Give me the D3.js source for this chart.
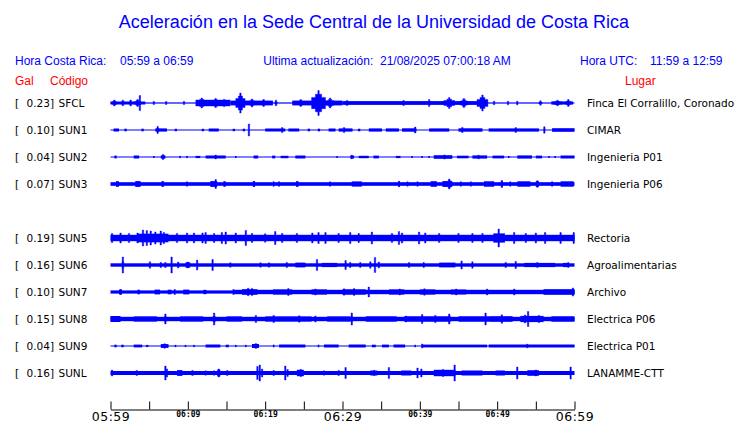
<!DOCTYPE html>
<html>
<head>
<meta charset="utf-8">
<script src="https://cdn.jsdelivr.net/npm/d3@7"></script>
<style>
  body { margin:0; background:#fff; }
  svg { display:block; }
</style>
</head>
<body>
<svg id="chart" width="740" height="423"></svg>
<script>
//
//  Acelerogramas, Sede Central UCR - one hour of traces
//
const slots = ["SFCL","SUN1","SUN2","SUN3","SUN4","SUN5","SUN6","SUN7","SUN8","SUN9","SUNL"];
const codes = ["SFCL","SUN1","SUN2","SUN3","SUN5","SUN6","SUN7","SUN8","SUN9","SUNL"];
const gal = [0.23, 0.10, 0.04, 0.07, 0.19, 0.16, 0.10, 0.15, 0.04, 0.16];
const places = ["Finca El Corralillo, Coronado","CIMAR","Ingenieria P01","Ingenieria P06",
  "Rectoria","Agroalimentarias","Archivo","Electrica P06","Electrica P01","LANAMME-CTT"];

const tickMinutes = [0,5,10,15,20,25,30,35,40,45,50,55,60];
const tickLabels = ["05:59","06:09","06:19","06:29","06:39","06:49","06:59"];
const bigLabels = ["05:59","06:29","06:59"];

// blocks: [min from, min to, half amplitude]   spikes: [min, amplitude, half width in min]
// amplitudes are relative units of each trace (row half height = 13)
const blocks = {
  SFCL: [[0,60,0.6],[0,4.5,1.5],[11,15.5,3.2],[15.5,21,2.4],[23.5,30,2.4],[30,41,1.9],[41,48.5,1.9],[57,59.8,1.6]],
  SUN1: [[0,60,0.5],[0.4,1.1,1.5],[1.8,2.1,1.3],[4,4.3,1.3],[5.8,7.3,1.6],[8.3,8.6,1.2],[11.8,12.1,1.2],[12.7,14,1.5],
         [15.8,16.1,1.2],[17.1,17.4,1.3],[20,22.6,1.5],[23,24.4,1.5],[25.5,25.8,1.3],[26.8,27.1,1.3],[28.2,29.1,1.5],
         [29.5,31.3,1.6],[32,32.3,1.3],[33.4,35.1,1.6],[35.6,37.3,1.6],[37.7,39.4,1.7],[41.2,43.8,1.6],[45,48.1,1.7],
         [48.9,55.4,1.6],[57.1,60,1.8]],
  SUN2: [[0,60,0.5],[0.5,0.8,1.4],[3,3.7,1.5],[5.5,5.7,1],[6.5,7.1,1.6],[8.9,9.1,1.1],[9.8,10,1.1],[11,11.6,1.1],
         [12.3,14.9,1.5],[16.1,16.3,1],[18.5,19.1,1.5],[20.9,21.3,1.4],[22,23,1.2],[23.9,25.2,1.5],[29.2,29.4,1],
         [31,31.5,1.5],[32.1,33.4,1.2],[34,34.7,1.4],[36.9,37.5,1.1],[38.9,39.1,1],[40.2,40.4,1],[41.1,41.3,1],
         [41.8,44.2,1.8],[44.8,46.3,1.3],[46.8,48.7,1.6],[49.4,50.9,1.4],[51.4,51.6,1],[52.6,54.5,1.6],[55,55.8,1.4],
         [56.6,56.8,1],[57.4,57.6,1],[58.2,60,1.5]],
  SUN3: [[0,60,1.8],[0.7,1.1,2.8],[3.2,3.9,2.9],[6.6,6.9,2.9],[9.8,10,2.5],[12.9,13.8,2.9],[14.6,14.9,2.8],
         [18.4,18.7,2.9],[21,21.2,2.6],[21.7,21.9,2.6],[24,24.3,2.9],[28.3,28.5,2.5],[31.2,32.5,2.6],[37.2,37.4,2.5],
         [38.3,38.5,2.5],[39.6,39.8,2.5],[41.4,42.2,2.8],[42.9,44.2,2.9],[45.2,45.4,2.5],[46.5,46.7,2.5],
         [48.3,49.6,2.7],[50.5,50.7,2.9],[51.6,51.8,2.5],[52.6,54.3,2.7],[55,55.4,2.9],[57,57.2,2.6],[58.2,59.9,2.7]],
  SUN5: [[0,60,3.2],[3.5,7.5,4.3],[49.5,51,4.6]],
  SUN6: [[0,60,1.7],[9.7,10.3,2.7],[23.9,25.2,2.4],[27.3,29.3,2.1],[42.5,44.6,2.4],[53.5,57.5,2.1],[58.5,59.2,2.1]],
  SUN7: [[0,60,1.6],[1.1,1.5,2.4],[3.5,3.8,2.3],[5.7,6.4,2.4],[7.4,7.9,2.3],[9.4,10.2,2.4],[12,12.4,2.2],
         [16,60,2.2],[17,19,2.8],[21,23.5,2.6],[26,28,2.6],[30,33,2.7],[36,38,2.6],[40,42,2.6],[44,46,2.5],[56,60,2.8]],
  SUN8: [[0,60,2.2],[0,1.3,3],[3,6,2.6],[9,12,2.6],[15,17,2.6],[20,26,2.6],[28,31,2.6],[33,37,2.7],[38,44,2.7],
         [45,49,2.7],[49,52,2.8],[53,56,3.1],[57,60,2.7]],
  SUN9: [[0,60,0.5],[0.5,0.8,1.3],[1.4,1.7,1.3],[3,4.1,1.4],[4.6,4.9,1.1],[6.5,7.5,1.9],[8.3,8.5,1.1],[9.6,9.8,1.1],
         [10.7,10.9,1.1],[12.3,14.2,1.5],[14.9,15.3,1.3],[16.1,16.3,1.1],[17.4,17.6,1.1],[18.3,19.2,2],[21,21.2,1.3],
         [21.8,25.2,1.5],[26.8,27,1.3],[27.6,29.5,1.5],[30.8,33,1.5],[33.8,34.3,1.3],[35.1,36,1.4],[36.6,38.1,1.5],
         [39.3,39.5,1.2],[40.3,48.7,1.4],[48.9,60,1.5]],
  SUNL: [[0,60,2],[8.6,9.3,2.9],[13.8,14.2,3.3],[24.1,25,3.2],[33.6,34.5,2.5],[37.6,38.9,2.5],[41.8,44.6,3.2],
         [45.4,48.1,2.5],[49.8,51,2.5],[53.9,55.4,2.8]]
};

const spikes = {
  SFCL: [[0.5,3,0.3],[1.6,2.8,0.2],[2.6,3,0.2],[3.5,3.5,0.4],[3.8,7.5,0.06],[5.6,1.6,0.06],[7.2,1.5,0.06],
         [9.5,1.6,0.06],[11.8,5,0.6],[13.6,4.6,0.5],[14.7,3.6,0.3],[16.8,10,0.6],[18.3,4,0.4],[19.8,3.6,0.3],
         [21.4,2.8,0.15],[24.6,3.4,0.4],[26.9,12.5,0.9],[28.4,5,0.5],[30.6,2.6,0.1],[37.9,2.6,0.06],
         [41.2,3.4,0.2],[43.8,5.5,0.7],[45.7,4.5,0.5],[48.1,8,0.7],[49.6,1.8,0.06],[51.4,1.8,0.06],
         [52.6,1.8,0.06],[55.6,2.2,0.2],[57.8,2.8,0.5],[59.2,3.4,0.3]],
  SUN1: [[6.1,3.5,0.15],[17.9,6,0.08],[22.2,2.4,0.1],[30.2,2.4,0.1],[39.4,3,0.15],[45.5,2.6,0.1],
         [52.4,2.4,0.1],[56.1,3.2,0.1]],
  SUN2: [[6.8,2.5,0.08],[13.6,2,0.08],[31.2,1.8,0.08],[43.2,2.1,0.1],[47.6,1.8,0.08]],
  SUN3: [[13.6,4.5,0.1],[37.3,2.8,0.06],[43.8,5,0.35],[50.6,3.6,0.1],[55.2,3.2,0.1]],
  SUN5: [[0.2,4.5,0.12],[1.3,5,0.12],[2.4,4.5,0.12],[3.5,5,0.15],[4.2,8,0.12],[4.7,7.5,0.12],[5.2,7,0.12],
         [5.8,6,0.12],[6.5,7,0.12],[6.9,5.5,0.12],[8.6,4.5,0.1],[9.9,5,0.1],[10.8,5,0.1],[11.9,5,0.1],
         [12.3,5.5,0.1],[13.4,4.5,0.1],[14.4,5.5,0.1],[14.9,6,0.12],[16.2,5,0.1],[17.5,7.5,0.1],[18.3,4.5,0.1],
         [20,4.2,0.1],[21.3,6.5,0.12],[22.2,4.5,0.1],[24.1,4.5,0.1],[26.1,5,0.1],[26.9,5.5,0.12],[27.8,5.5,0.1],
         [29.5,4.5,0.1],[31,5.5,0.12],[32.1,4.5,0.1],[33.8,6,0.12],[36.4,4.5,0.1],[37.3,6.5,0.12],[37.7,5,0.1],
         [39.9,6,0.12],[40.7,5,0.1],[42.5,4.5,0.1],[45,4.5,0.1],[46.8,4.5,0.1],[48.1,4.5,0.1],[50.2,9,0.15],
         [52.2,5.5,0.1],[53.7,4.5,0.1],[55,5,0.1],[56.2,5.5,0.1],[58.2,5.5,0.12],[59.9,5.5,0.1]],
  SUN6: [[1.6,8,0.12],[5.1,3.2,0.06],[6.5,2.6,0.08],[7.1,2.6,0.08],[7.9,8,0.08],[8.75,3,0.06],[10,3,0.1],
         [11.2,5,0.06],[13.2,5.5,0.06],[15.5,2.2,0.05],[19.4,2.2,0.05],[20.5,2.2,0.05],[22.8,2.4,0.05],
         [26.7,5.5,0.08],[30.4,4.5,0.08],[31,2.6,0.06],[32.3,2.4,0.08],[33.6,3.2,0.06],[34.2,7.5,0.08],
         [34.7,3,0.06],[38.6,2.4,0.05],[40.5,2.4,0.05],[45.4,4,0.06],[46.8,3.2,0.06],[51.1,2.6,0.1],
         [52.4,3.6,0.06],[55.2,2.4,0.05],[59.2,2.4,0.05]],
  SUN7: [[1.3,2.6,0.06],[8.3,2.6,0.06],[15.9,2.6,0.06],[17.8,3.8,0.1],[18.3,3.6,0.1],[23,3.4,0.08],
         [26.5,3,0.08],[30.2,3.2,0.08],[31.5,3.4,0.08],[33.4,5,0.06],[37.4,3,0.08],[40.6,3.2,0.08],
         [44.7,3,0.08],[48.7,3,0.08],[52.2,3,0.08],[59.8,4,0.06]],
  SUN8: [[7.1,5,0.15],[13.4,6,0.15],[18.8,3.6,0.1],[21.1,3.6,0.06],[24.4,3.2,0.1],[26.5,3,0.1],[31.2,6,0.12],
         [38.2,3,0.08],[40.3,4.5,0.08],[42,3.6,0.1],[43.8,5,0.12],[48.5,6,0.06],[50.6,4.2,0.12],[53.6,4,0.2],
         [54,7.5,0.06],[55.4,3.6,0.1]],
  SUN9: [[7,2.2,0.06],[18.8,2.4,0.06],[40.3,2,0.06],[53.9,1.8,0.06]],
  SUNL: [[0.2,3,0.08],[3.4,2.6,0.06],[7.1,7,0.1],[7.3,4,0.1],[10.6,2.6,0.05],[12.3,2.2,0.05],[13.4,2.2,0.05],
         [14,4,0.12],[15.1,2.6,0.05],[19,6.5,0.1],[19.3,8,0.06],[19.6,4,0.08],[21.1,2.6,0.05],[22.6,7,0.08],
         [22.9,3.6,0.1],[24.6,3.6,0.12],[27.6,2.2,0.05],[29.5,2.6,0.05],[30.4,5.5,0.06],[34.1,2.6,0.05],
         [36,5.5,0.08],[39.7,5,0.06],[40.2,4,0.08],[43,3.6,0.1],[44.5,8,0.06],[52.6,6,0.06],[55,3,0.08],
         [59.5,6,0.05]]
};

const blue = "#0000ff", red = "#ff0000";
const svg = d3.select("#chart");

// time scale, minutes after 05:59
const t0 = new Date(2025, 7, 21, 5, 59);
const at = m => new Date(t0.getTime() + m * 60000);
const hm = d3.timeFormat("%H:%M");
const x = d3.scaleTime().domain([t0, at(60)]).range([110.5, 574.5]);
const y = d3.scalePoint().domain(slots).range([103, 373]);
const amp = d3.scaleLinear().domain([0, 13]).range([0, 13]);

// titles
svg.append("text")
  .attr("x", 374).attr("y", 28)
  .attr("text-anchor", "middle")
  .style("font", "18px 'Liberation Sans', Arial, sans-serif")
  .attr("fill", blue)
  .text("Aceleración en la Sede Central de la Universidad de Costa Rica");

let head = [
  [15, "start", "Hora Costa Rica:"],
  [120, "start", "05:59 a 06:59"],
  [387, "middle", "Ultima actualización:  21/08/2025 07:00:18 AM"],
  [580, "start", "Hora UTC:"],
  [650, "start", "11:59 a 12:59"],
];
head.forEach(h => {
  svg.append("text")
    .attr("x", h[0]).attr("y", 65)
    .attr("text-anchor", h[1])
    .attr("xml:space", "preserve")
    .style("font", "12px 'Liberation Sans', Arial, sans-serif")
    .attr("fill", blue)
    .text(h[2]);
});
[[15, "Gal"], [50, "Código"], [625, "Lugar"]].forEach(h => {
  svg.append("text")
    .attr("x", h[0]).attr("y", 85)
    .style("font", "12px 'Liberation Sans', Arial, sans-serif")
    .attr("fill", red)
    .text(h[1]);
});

// a burst: stepped envelope with a sharp peak in the middle
function burstPath(d, cy) {
  let a = amp(d[1]), w = d[2];
  let xc = x(at(d[0]));
  let in0 = Math.min(x(at(d[0] - w * 0.45)), xc - 0.7);
  let out0 = Math.min(x(at(d[0] - w)), in0);
  let in1 = Math.max(x(at(d[0] + w * 0.45)), xc + 0.7);
  let out1 = Math.max(x(at(d[0] + w)), in1);
  let xs = [out0, in0, xc - 0.7, xc + 0.7, in1, out1];
  let hs = [a * 0.45, a * 0.7, a];
  return "M" + xs[0] + "," + (cy - hs[0]) +
    "H" + xs[1] + "V" + (cy - hs[1]) + "H" + xs[2] + "V" + (cy - hs[2]) +
    "H" + xs[3] + "V" + (cy - hs[1]) + "H" + xs[4] + "V" + (cy - hs[0]) + "H" + xs[5] +
    "V" + (cy + hs[0]) + "H" + xs[4] + "V" + (cy + hs[1]) + "H" + xs[3] + "V" + (cy + hs[2]) +
    "H" + xs[2] + "V" + (cy + hs[1]) + "H" + xs[1] + "V" + (cy + hs[0]) + "H" + xs[0] + "Z";
}

// station rows
let labelFont = "10.5px 'DejaVu Sans', sans-serif";
codes.forEach((code, i) => {
  let cy = y(code);
  let row = svg.append("g").attr("class", "row");

  row.append("text").attr("x", 15).attr("y", cy + 4)
    .style("font", labelFont).text("[");
  row.append("text").attr("x", 54).attr("y", cy + 4)
    .attr("text-anchor", "end")
    .style("font", labelFont).text(gal[i].toFixed(2) + "]");
  row.append("text").attr("x", 58.5).attr("y", cy + 4)
    .style("font", labelFont).text(code);
  row.append("text").attr("x", 587).attr("y", cy + 4)
    .style("font", labelFont).text(places[i]);

  row.selectAll("rect")
    .data(blocks[code])
    .enter()
    .append("rect")
    .attr("x", d => x(at(d[0])))
    .attr("width", d => x(at(d[1])) - x(at(d[0])))
    .attr("y", d => cy - Math.max(amp(d[2]), 0.5))
    .attr("height", d => Math.max(2 * amp(d[2]), 1))
    .attr("fill", blue);

  row.selectAll("path")
    .data(spikes[code])
    .enter()
    .append("path")
    .attr("d", d => burstPath(d, cy))
    .attr("fill", blue)
    .attr("stroke", blue)
    .attr("stroke-width", 0.4);
});

// time axis, ticks every 5 min pointing up
let axis = d3.axisBottom(x)
  .tickValues(tickMinutes.map(at))
  .tickSizeInner(-8)
  .tickSizeOuter(0)
  .tickPadding(3)
  .tickFormat(d => tickLabels.indexOf(hm(d)) >= 0 ? hm(d) : "");

let gx = svg.append("g")
  .attr("transform", "translate(0,409.5)")
  .call(axis);
gx.select(".domain").attr("stroke", "#000").attr("stroke-width", 1.2);
gx.selectAll(".tick line").attr("stroke", "#000");
let isBig = d => bigLabels.indexOf(hm(d)) >= 0;
gx.selectAll(".tick text")
  .attr("fill", "#000")
  .attr("dy", null)
  .attr("y", d => isBig(d) ? 11 : 7.5)
  .style("font", d => isBig(d) ? "12.5px 'DejaVu Sans', sans-serif" : "bold 8px 'DejaVu Sans Mono', monospace")
  .style("letter-spacing", d => isBig(d) ? "0.5px" : null);
</script>
</body>
</html>
